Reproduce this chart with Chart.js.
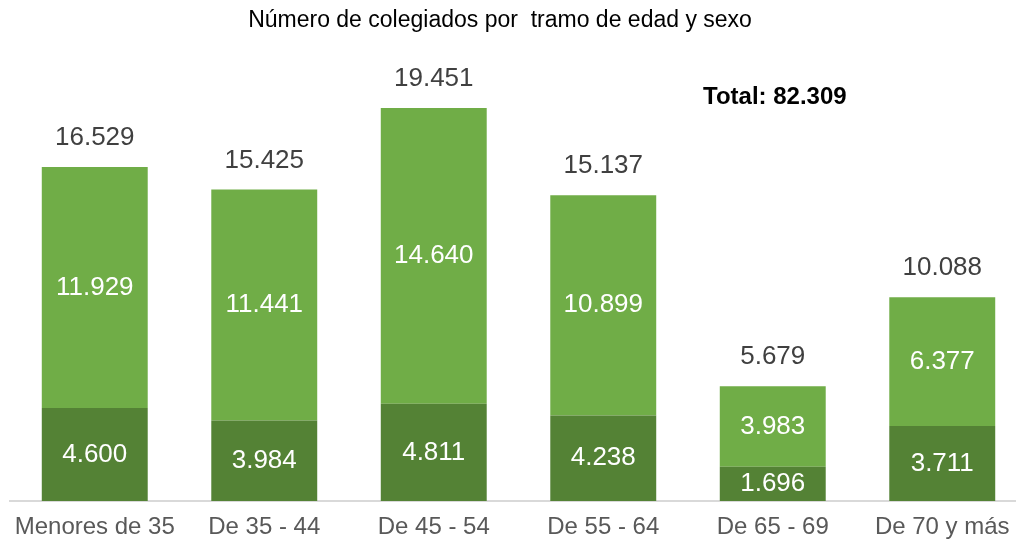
<!DOCTYPE html>
<html>
<head>
<meta charset="utf-8">
<script src="https://cdn.jsdelivr.net/npm/chart.js@4/dist/chart.umd.min.js"></script>
<style>
  html, body { margin: 0; padding: 0; background: #fff; overflow: hidden; }
  canvas { display: block; }
</style>
</head>
<body>
<canvas id="chart" width="1040" height="543" style="width:1040px;height:543px"></canvas>
<script>
// Datos del gráfico
const categorias = ['Menores de 35', 'De 35 - 44', 'De 45 - 54', 'De 55 - 64', 'De 65 - 69', 'De 70 y más'];
const hombres = [4600, 3984, 4811, 4238, 1696, 3711];
const mujeres = [11929, 11441, 14640, 10899, 3983, 6377];
const totalGeneral = 82309;

const titulo = 'Número de colegiados por  tramo de edad y sexo';
const FONT = '"Liberation Sans", Arial, sans-serif';

// Formato con punto de miles
function fmt(n) {
  return String(n).replace(/\B(?=(\d{3})+(?!\d))/g, '.');
}

// Plugin para etiquetas, título y total
const etiquetas = {
  id: 'etiquetas',
  afterDatasetsDraw(chart) {
    const ctx = chart.ctx;
    ctx.save();
    ctx.textAlign = 'center';
    ctx.textBaseline = 'middle';
    ctx.font = '26px ' + FONT;
    ctx.fillStyle = '#ffffff';
    chart.data.datasets.forEach((ds, i) => {
      const meta = chart.getDatasetMeta(i);
      meta.data.forEach((bar, j) => {
        ctx.fillText(fmt(ds.data[j]), bar.x, (bar.y + bar.base) / 2);
      });
    });
    // totales encima de cada barra
    const top = chart.getDatasetMeta(1);
    ctx.fillStyle = '#404040';
    top.data.forEach((bar, j) => {
      ctx.fillText(fmt(hombres[j] + mujeres[j]), bar.x, bar.y - 29);
    });
    // título
    ctx.fillStyle = '#000000';
    ctx.font = '23px ' + FONT;
    ctx.fillText(titulo, 500, 21);
    // total general
    ctx.textAlign = 'left';
    ctx.font = 'bold 24px ' + FONT;
    ctx.fillText('Total: ' + fmt(totalGeneral), 703, 97);
    ctx.restore();
  }
};

new Chart(document.getElementById('chart').getContext('2d'), {
  type: 'bar',
  data: {
    labels: categorias,
    datasets: [
      {
        label: 'Hombres',
        data: hombres,
        backgroundColor: '#548235',
        barPercentage: 0.625,
        categoryPercentage: 1
      },
      {
        label: 'Mujeres',
        data: mujeres,
        backgroundColor: '#70ad47',
        barPercentage: 0.625,
        categoryPercentage: 1
      }
    ]
  },
  options: {
    responsive: false,
    animation: false,
    layout: { padding: { left: 10, right: 13, top: 97, bottom: 0 } },
    plugins: {
      legend: { display: false },
      tooltip: { enabled: false }
    },
    scales: {
      x: {
        stacked: true,
        grid: { display: false, drawTicks: false },
        border: { color: '#d9d9d9', width: 2 },
        ticks: {
          color: '#595959',
          font: { family: FONT, size: 24 },
          padding: 12,
          maxRotation: 0,
          autoSkip: false
        },
        afterFit: s => { s.height = 42; }
      },
      y: {
        stacked: true,
        display: false,
        min: 0,
        max: 20000
      }
    }
  },
  plugins: [etiquetas]
});
</script>
</body>
</html>
